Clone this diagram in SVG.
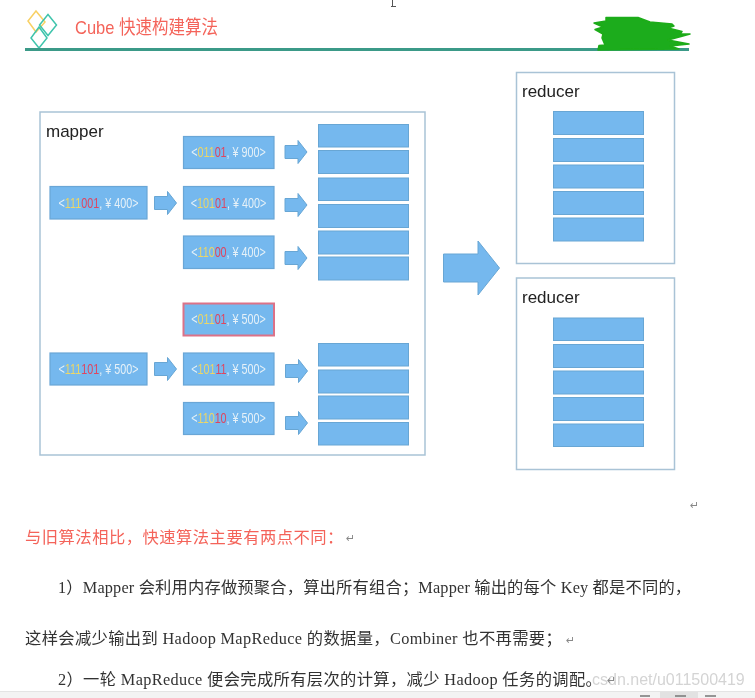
<svg xmlns="http://www.w3.org/2000/svg" width="755" height="698" viewBox="0 0 755 698">
<style>
.frame{fill:#fff;stroke:#a9c3d6;stroke-width:1.5}
.key{fill:#74b8ee;stroke:#6aa6d6;stroke-width:1.2}
.keyred{fill:#74b8ee;stroke:#dc7288;stroke-width:2}
.bar{fill:#74b8ee;stroke:#68a6d4;stroke-width:1}
.arrow{fill:#74b8ee;stroke:#68a6d4;stroke-width:1}
.k{font:14px "Liberation Sans",Arial,sans-serif;fill:#e6f1f8;text-anchor:middle}
.y{fill:#ecd667}.r{fill:#e0455f}
.lab{font:17px "Liberation Sans",Arial,sans-serif;fill:#222}
.b{font:16.3px "Liberation Serif","Noto Sans CJK SC",serif;fill:#333}
.ret{font:11px "Liberation Sans","DejaVu Sans",sans-serif;fill:#888}
</style>
<defs>
<path id="sa" class="arrow" d="M0-6.500H13V-11.500L22 0L13 11.500V6.500H0Z"/>
<filter id="soft" x="0" y="0" width="100%" height="100%"><feGaussianBlur stdDeviation="0.4"/></filter>
</defs>
<rect width="755" height="698" fill="#fff"/>
<g filter="url(#soft)">
<g id="header">
<path d="M392.500 0V6M391 6.500H396" stroke="#555" stroke-width="1" fill="none"/>
<path d="M36 11L45 22L36 32L28 21Z" fill="none" stroke="#f8d064" stroke-width="1.500"/>
<path d="M48 14.500L56.500 25L48 35.500L39.500 25Z" fill="none" stroke="#3fc4ac" stroke-width="1.500"/>
<path d="M39 27L47 38L39 48L31 38Z" fill="none" stroke="#3fc4ac" stroke-width="1.500"/>
<text x="75" y="33.500" font-family="'Liberation Sans','Noto Sans CJK SC',sans-serif" font-size="19" fill="#f4645a" textLength="143" lengthAdjust="spacingAndGlyphs">Cube 快速构建算法</text>
<rect x="25" y="48" width="664" height="3" fill="#3a9a88"/>
<path d="M606 17.500H638L650 22L672 24L674 26L668 28L682 31.500L680 34H690L681 36.500L668 40L689 44L670 46L679 49L598 50L599 45.500L605 45L602 38L603 34L595 29.500L603 27L594 23L606 21Z" fill="#1fac1a" stroke="#1fac1a" stroke-width="1.500" stroke-linejoin="round"/>
</g>
<g id="mapper">
<rect class="frame" x="40" y="112" width="385" height="343"/>
<text class="lab" x="46" y="137">mapper</text>
</g>
<g id="reducer1">
<rect class="frame" x="516.500" y="72.500" width="158" height="191"/>
<text class="lab" x="522" y="97">reducer</text>
<rect class="bar" x="553.500" y="111.500" width="90" height="23"/>
<rect class="bar" x="553.500" y="138.500" width="90" height="23"/>
<rect class="bar" x="553.500" y="165" width="90" height="23"/>
<rect class="bar" x="553.500" y="191.500" width="90" height="23"/>
<rect class="bar" x="553.500" y="218" width="90" height="23"/>
</g>
<g id="reducer2">
<rect class="frame" x="516.500" y="278" width="158" height="191.500"/>
<text class="lab" x="522" y="303">reducer</text>
<rect class="bar" x="553.500" y="318" width="90" height="22.500"/>
<rect class="bar" x="553.500" y="344.500" width="90" height="23"/>
<rect class="bar" x="553.500" y="371" width="90" height="23"/>
<rect class="bar" x="553.500" y="397.500" width="90" height="23"/>
<rect class="bar" x="553.500" y="424" width="90" height="22.500"/>
</g>
<g id="connectors">
<use href="#sa" x="154.500" y="203"/>
<use href="#sa" x="154.500" y="369"/>
<use href="#sa" x="285" y="152"/>
<use href="#sa" x="285" y="205"/>
<use href="#sa" x="285" y="258"/>
<use href="#sa" x="285.500" y="371"/>
<use href="#sa" x="285.500" y="423"/>
<path class="arrow" d="M443.500 254H478V241L499.500 268L478 295V282H443.500Z"/>
</g>
<g id="key-111001">
<rect class="key" x="50" y="186.500" width="97" height="32.500"/>
<text class="k" transform="translate(98.500 207.500) scale(.77 1)">&lt;<tspan class="y">111</tspan><tspan class="r">001</tspan>, ¥ 400&gt;</text>
</g>
<g id="key-111101">
<rect class="key" x="50" y="353" width="97" height="32"/>
<text class="k" transform="translate(98.500 373.500) scale(.77 1)">&lt;<tspan class="y">111</tspan><tspan class="r">101</tspan>, ¥ 500&gt;</text>
</g>
<g id="key-01101-900">
<rect class="key" x="183.500" y="136.500" width="90.500" height="32" stroke="#9a93b8"/>
<text class="k" transform="translate(228.500 157) scale(.77 1)">&lt;<tspan class="y">011</tspan><tspan class="r">01</tspan>, ¥ 900&gt;</text>
</g>
<g id="key-10101">
<rect class="key" x="183.500" y="186.500" width="90.500" height="32.500"/>
<text class="k" transform="translate(228.500 207.500) scale(.77 1)">&lt;<tspan class="y">101</tspan><tspan class="r">01</tspan>, ¥ 400&gt;</text>
</g>
<g id="key-11000">
<rect class="key" x="183.500" y="236" width="90.500" height="32.500"/>
<text class="k" transform="translate(228.500 256.500) scale(.77 1)">&lt;<tspan class="y">110</tspan><tspan class="r">00</tspan>, ¥ 400&gt;</text>
</g>
<g id="key-01101-500">
<rect class="keyred" x="183.500" y="303.500" width="90.500" height="32"/>
<text class="k" transform="translate(228.500 323.500) scale(.77 1)">&lt;<tspan class="y">011</tspan><tspan class="r">01</tspan>, ¥ 500&gt;</text>
</g>
<g id="key-10111">
<rect class="key" x="183.500" y="353" width="90.500" height="32"/>
<text class="k" transform="translate(228.500 373.500) scale(.77 1)">&lt;<tspan class="y">101</tspan><tspan class="r">11</tspan>, ¥ 500&gt;</text>
</g>
<g id="key-11010">
<rect class="key" x="183.500" y="402.500" width="90.500" height="32"/>
<text class="k" transform="translate(228.500 423) scale(.77 1)">&lt;<tspan class="y">110</tspan><tspan class="r">10</tspan>, ¥ 500&gt;</text>
</g>
<g id="outputs">
<rect class="bar" x="318.500" y="124.500" width="90" height="22.500"/>
<rect class="bar" x="318.500" y="150.500" width="90" height="23"/>
<rect class="bar" x="318.500" y="178" width="90" height="22.500"/>
<rect class="bar" x="318.500" y="204.500" width="90" height="23"/>
<rect class="bar" x="318.500" y="231" width="90" height="23"/>
<rect class="bar" x="318.500" y="257" width="90" height="23"/>
<rect class="bar" x="318.500" y="343.500" width="90" height="22.500"/>
<rect class="bar" x="318.500" y="370" width="90" height="23"/>
<rect class="bar" x="318.500" y="396" width="90" height="23"/>
<rect class="bar" x="318.500" y="422.500" width="90" height="22.500"/>
</g>
<g id="body-text">
<text class="ret" x="690" y="509">↵</text>
<text class="b" x="25" y="543" letter-spacing=".5" style="fill:#f4645a">与旧算法相比，快速算法主要有两点不同：</text>
<text class="ret" x="346" y="542">↵</text>
<text class="b" x="58" y="593" letter-spacing=".17">1）Mapper 会利用内存做预聚合，算出所有组合；Mapper 输出的每个 Key 都是不同的，</text>
<text class="b" x="25" y="644" letter-spacing=".35">这样会减少输出到 Hadoop MapReduce 的数据量，Combiner 也不再需要；</text>
<text class="ret" x="566" y="644">↵</text>
<text x="592" y="685" font-family="'Liberation Sans',sans-serif" font-size="16" fill="#d4d4d4">csdn.net/u011500419</text>
<text class="b" x="58" y="685" letter-spacing=".35">2）一轮 MapReduce 便会完成所有层次的计算，减少 Hadoop 任务的调配。</text>
<text class="ret" x="607" y="684">↵</text>
</g>
<g id="status-bar">
<rect x="0" y="691" width="755" height="7" fill="#f3f3f3"/>
<rect x="0" y="691" width="755" height="1" fill="#e4e4e4"/>
<rect x="660" y="692" width="38" height="6" fill="#e2e2e2"/>
<path d="M640 696H650M675 696H686M705 696H716" stroke="#777" stroke-width="1.500"/>
</g>
</g>
</svg>
